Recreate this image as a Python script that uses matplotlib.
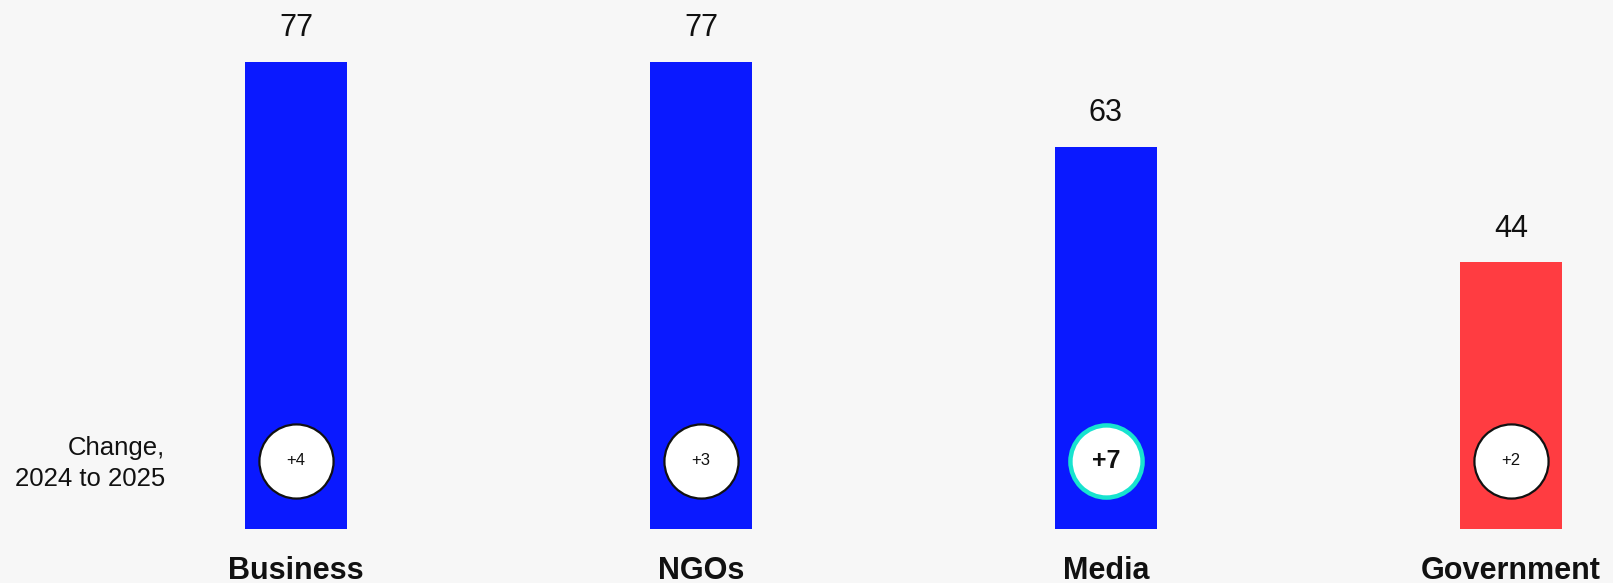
import matplotlib.pyplot as plt

plt.rcParams['font.family'] = ['Liberation Sans', 'DejaVu Sans']

# data
categories = ['Business', 'NGOs', 'Media', 'Government']
trust = [77, 77, 63, 44]
changes = ['+4', '+3', '+7', '+2']
colors = ['#0A19FF', '#0A19FF', '#0A19FF', '#FF3C41']
highlight = [False, False, True, False]

bg = '#F7F7F7'
fig = plt.figure(figsize=(16.13, 5.83), dpi=100, facecolor=bg)
ax = fig.add_axes([0, 0, 1, 1])
ax.set_facecolor(bg)

x = list(range(len(categories)))
ax.bar(x, trust, width=0.254, color=colors)

# value labels above bars
for xi, v in zip(x, trust):
    ax.annotate(str(v), (xi, v), xytext=(0, 24), textcoords='offset points',
                ha='center', va='center', fontsize=22, color='#111111')

# change circles
circle_y = 11.2
for xi, c, hi in zip(x, changes, highlight):
    if hi:
        ax.scatter(xi, circle_y, s=2700, color='white', edgecolor='#17E3CF',
                   linewidth=3.2, zorder=3)
        ax.text(xi, circle_y, c, ha='center', va='center', fontsize=18,
                fontweight='bold', color='#111111', zorder=4)
    else:
        ax.scatter(xi, circle_y, s=2850, color='white', edgecolor='#111111',
                   linewidth=1.6, zorder=3)
        ax.text(xi, circle_y, c, ha='center', va='center', fontsize=12,
                color='#111111', zorder=4)

ax.text(-0.323, circle_y - 0.4, 'Change,\n2024 to 2025', ha='right', va='center',
        fontsize=18.5, color='#111111', linespacing=1.35)

# category labels
for xi, cat in zip(x, categories):
    ax.text(xi, -6.9, cat, ha='center', va='center', fontsize=22,
            fontweight='bold', color='#111111')

ax.set_xlim(-0.7309, 3.252)
ax.set_ylim(-8.9, 87.15)
ax.axis('off')

fig.savefig('out.png', dpi=100, facecolor=bg)
